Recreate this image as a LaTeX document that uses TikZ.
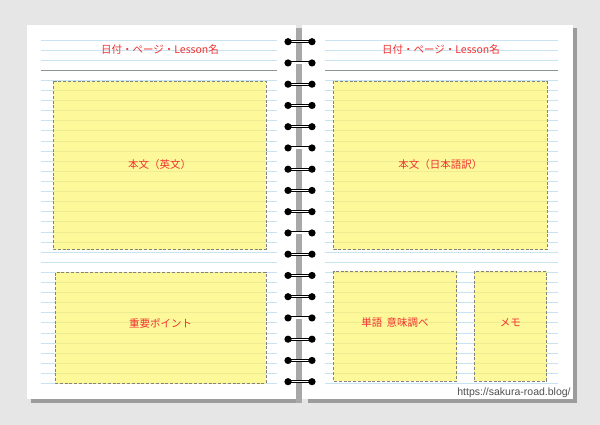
\documentclass[tikz,border=0pt]{standalone}
\usepackage{fontspec}
\newfontfamily\jpfont{Noto Sans CJK JP}
\newfontfamily\urlfont{Liberation Sans}
\definecolor{bgcol}{HTML}{E6E6E6}
\definecolor{shadowcol}{HTML}{9C9C9C}
\definecolor{spinecol}{HTML}{A8A8A8}
\definecolor{rulecol}{HTML}{C8E4F0}
\definecolor{darkrule}{HTML}{8C9496}
\definecolor{padcol}{HTML}{FDF99A}
\definecolor{padrule}{HTML}{EDEC92}
\definecolor{padedge}{HTML}{828282}
\definecolor{textred}{HTML}{F23030}
\definecolor{urlcol}{HTML}{505050}
\newcommand\yellowpad[7]{%
  \fill[padfill] (#1,#2) rectangle (#3,#4);
  \begin{scope}
    \clip (#1,#2) rectangle (#3,#4);
    \foreach \k in {4,...,34} \draw[padline] (#1,{40+10.1*\k}) -- (#3,{40+10.1*\k});
  \end{scope}
  \draw[padborder] (#1,#2) rectangle (#3,#4);
  \node[padtext] (#5) at ({(#1+#3)/2},#7) {#6};
}
\begin{document}
\begin{tikzpicture}[x=1pt,y=-1pt,
  pagefill/.style={fill=white},
  shadowfill/.style={fill=shadowcol},
  bluerule/.style={draw=rulecol,line width=0.8pt},
  grayrule/.style={draw=darkrule,line width=0.9pt},
  padfill/.style={fill=padcol},
  padline/.style={draw=padrule,line width=0.8pt},
  padborder/.style={draw=padedge,line width=1pt,dash pattern=on 3pt off 1.8pt},
  padtext/.style={text=textred,font=\jpfont\fontsize{10.5}{12}\selectfont,inner sep=0pt},
  headtext/.style={text=textred,font=\jpfont\fontsize{10.5}{12}\selectfont,inner sep=1pt},
  ringwire/.style={draw=black,line width=0.9pt,double=white,double distance=1.2pt},
  ringdot/.style={fill=black}
]
\useasboundingbox (0,0) rectangle (600,425);
\fill[bgcol] (0,0) rectangle (600,425);
% shadows
\fill[shadowfill] (31,399) rectangle (300,403);
\fill[shadowfill] (308,399) rectangle (577,403);
\fill[shadowfill] (573,28) rectangle (577,403);
% pages
\fill[pagefill] (27,25) rectangle (296,399);
\fill[pagefill] (302,25) rectangle (573,399);
% spine
\fill[spinecol] (296,28) rectangle (302,403);
% rules
\foreach \k in {0,1,2,4,5,...,34} {
  \draw[bluerule] (40.7,{40+10.1*\k}) -- (277,{40+10.1*\k});
  \draw[bluerule] (325,{40+10.1*\k}) -- (558,{40+10.1*\k});
}
\draw[grayrule] (40.7,70.3) -- (277,70.3);
\draw[grayrule] (325,70.3) -- (558,70.3);
% headers
\node[headtext] (hl) at (160,50) {日付・ページ・Lesson名};
\node[headtext] (hr) at (441,50) {日付・ページ・Lesson名};
% pads
\yellowpad{53}{81.5}{266}{249.5}{p1}{本文（英文）}{165}
\yellowpad{55}{272.5}{266}{383}{p2}{重要ポイント}{323}
\yellowpad{333.5}{81.5}{547}{249.5}{p3}{本文（日本語訳）}{165}
\yellowpad{333.5}{271}{456.5}{381}{p4}{単語\hspace{0.4em}意味調べ}{322.5}
\yellowpad{474}{271}{546.5}{381}{p5}{メモ}{322.5}
% rings
\foreach \i in {0,...,16} {
  \pgfmathsetmacro\ry{41.7+21.25*\i}
  \draw[ringwire] (288,\ry) -- (312,\ry);
  \fill[ringdot] (288,\ry) circle (3.6);
  \fill[ringdot] (312,\ry) circle (3.6);
}
% url
\node[text=urlcol,font=\urlfont\fontsize{10.5}{12}\selectfont,inner sep=0pt] (url) at (514,392.5) {https://sakura-road.blog/};
\end{tikzpicture}
\end{document}
